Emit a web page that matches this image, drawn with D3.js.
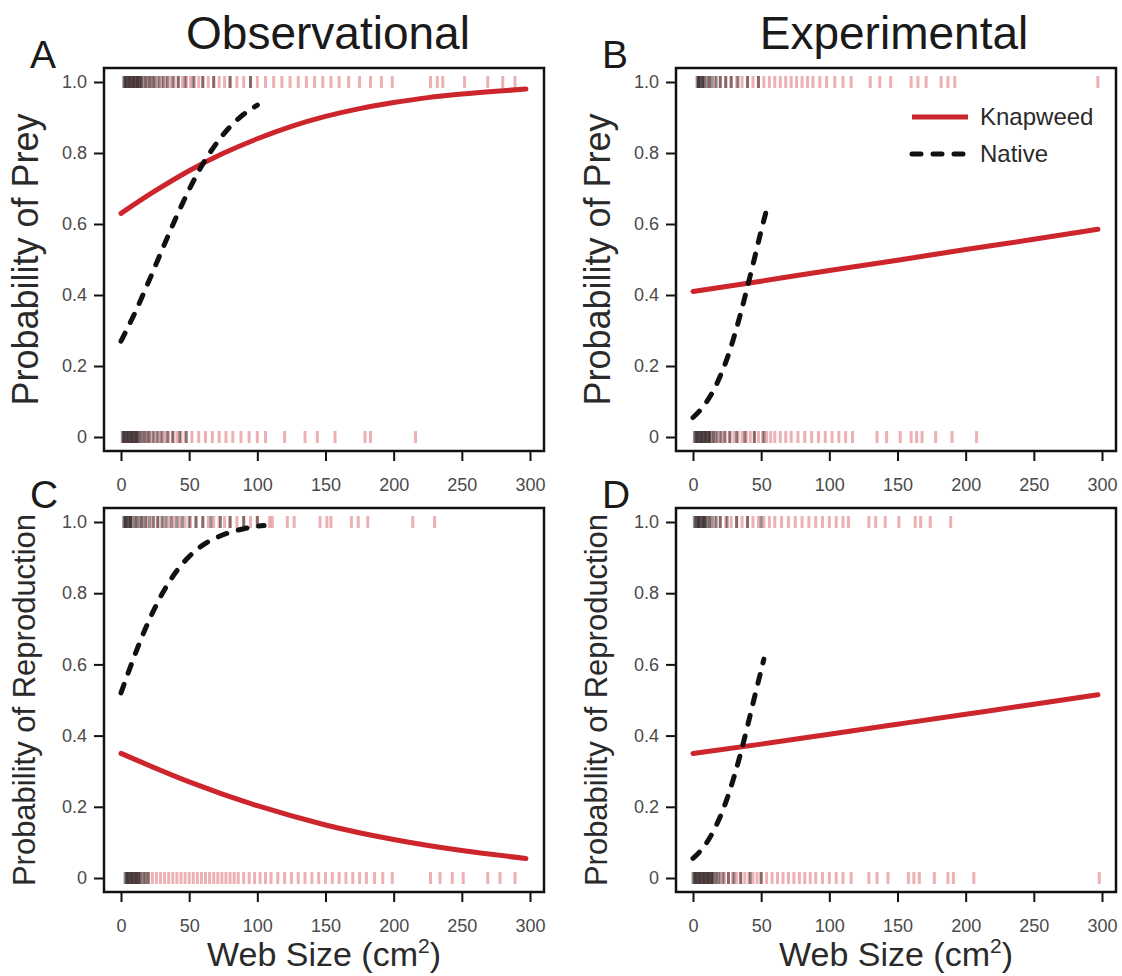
<!DOCTYPE html>
<html>
<head>
<meta charset="utf-8">
<script src="https://cdn.jsdelivr.net/npm/d3@7"></script>
<style>
  body { margin: 0; background: #fff; }
  svg { font-family: "Liberation Sans", Arial, sans-serif; }
</style>
</head>
<body>
<svg id="chart" width="1122" height="976"></svg>
<script>
// fitted curves (web size in cm2, probability)
const preyObsKnapX = [0, 25, 50, 75, 100, 125, 150, 175, 200, 225, 250, 275, 297];
const preyObsKnapP = [0.63, 0.693, 0.75, 0.799, 0.84, 0.875, 0.903, 0.925, 0.942, 0.956, 0.966, 0.974, 0.98];
const preyObsNatX = [0, 10, 20, 30, 40, 50, 60, 70, 80, 90, 100];
const preyObsNatP = [0.27, 0.348, 0.435, 0.526, 0.615, 0.697, 0.769, 0.827, 0.874, 0.909, 0.935];

const preyExpKnapX = [0, 50, 100, 150, 200, 250, 297];
const preyExpKnapP = [0.41, 0.439, 0.469, 0.498, 0.528, 0.557, 0.585];
const preyExpNatX = [0, 5, 10, 15, 20, 25, 30, 35, 40, 45, 50, 55];
const preyExpNatP = [0.055, 0.074, 0.099, 0.131, 0.172, 0.221, 0.281, 0.349, 0.424, 0.502, 0.581, 0.655];

const reproObsKnapX = [0, 50, 100, 150, 200, 250, 297];
const reproObsKnapP = [0.35, 0.27, 0.203, 0.149, 0.108, 0.077, 0.055];
const reproObsNatX = [0, 10, 20, 30, 40, 50, 60, 70, 80, 90, 100, 105];
const reproObsNatP = [0.52, 0.625, 0.719, 0.797, 0.858, 0.903, 0.935, 0.956, 0.971, 0.981, 0.988, 0.99];

const reproExpKnapX = [0, 50, 100, 150, 200, 250, 297];
const reproExpKnapP = [0.35, 0.376, 0.404, 0.432, 0.46, 0.488, 0.515];
const reproExpNatX = [0, 5, 10, 15, 20, 25, 30, 35, 40, 45, 50, 52];
const reproExpNatP = [0.055, 0.074, 0.099, 0.132, 0.173, 0.223, 0.283, 0.351, 0.427, 0.506, 0.584, 0.615];

// raw observations (rug marks): web sizes with outcome 1 and outcome 0
const preyObsKnap1 = [3, 6, 9, 12, 15, 18, 21, 24, 27, 30, 33, 36, 39, 42, 45, 48, 51, 54, 57, 60, 64, 68, 72, 76, 80, 85, 90, 95, 100, 106, 112, 118, 124, 130, 136, 142, 148, 154, 160, 167, 175, 183, 191, 199, 227, 232, 236, 252, 269, 280, 289];
const preyObsNat1 = [2, 3, 4, 5, 6, 7, 8, 9, 10, 11, 12, 13, 14, 15, 17, 19, 21, 23, 25, 28, 31, 34, 38, 42, 47, 53, 60, 68, 80, 95];
const preyObsKnap0 = [2, 5, 8, 11, 14, 17, 20, 23, 26, 29, 32, 35, 38, 41, 44, 47, 52, 57, 62, 67, 72, 77, 82, 88, 94, 100, 106, 120, 135, 144, 157, 179, 183, 216];
const preyObsNat0 = [1, 2, 3, 4, 5, 6, 7, 8, 9, 10, 11, 12, 13, 15, 17, 19, 21, 24, 27, 30, 34, 38, 43, 48];

const preyExpKnap1 = [4, 8, 12, 16, 20, 24, 28, 32, 36, 40, 44, 48, 52, 56, 60, 64, 68, 72, 76, 80, 84, 88, 93, 98, 104, 110, 116, 130, 137, 145, 160, 165, 171, 182, 187, 192, 297];
const preyExpNat1 = [3, 4, 5, 6, 7, 8, 10, 12, 14, 17, 20, 24, 28, 33, 40, 48];
const preyExpKnap0 = [3, 6, 9, 12, 15, 18, 21, 24, 27, 30, 33, 36, 39, 42, 45, 48, 51, 54, 57, 60, 64, 68, 72, 77, 82, 87, 92, 97, 102, 107, 112, 117, 135, 142, 152, 160, 164, 168, 178, 190, 208];
const preyExpNat0 = [1, 2, 3, 4, 5, 6, 7, 8, 9, 10, 11, 12, 13, 15, 17, 20, 23, 27, 32, 38, 45, 52];

const reproObsKnap1 = [3, 7, 11, 15, 19, 23, 27, 31, 35, 39, 43, 47, 51, 55, 60, 64, 68, 72, 76, 80, 85, 90, 95, 100, 109, 111, 122, 127, 146, 151, 154, 169, 174, 181, 214, 230];
const reproObsNat1 = [2, 3, 4, 5, 6, 7, 8, 10, 12, 14, 16, 18, 21, 24, 27, 30, 33, 37, 41, 45, 50, 55, 60, 66, 73, 80, 90, 100];
const reproObsKnap0 = [5, 8, 11, 14, 17, 20, 23, 26, 29, 32, 35, 38, 41, 44, 47, 50, 53, 56, 59, 62, 65, 68, 71, 74, 77, 80, 83, 86, 90, 94, 98, 102, 106, 110, 115, 120, 125, 130, 135, 140, 145, 150, 155, 160, 165, 170, 175, 180, 186, 192, 199, 227, 234, 243, 251, 269, 278, 289];
const reproObsNat0 = [3, 4, 5, 6, 7, 8, 9, 10, 11, 12, 13, 14, 16, 18, 20];

const reproExpKnap1 = [4, 8, 12, 16, 20, 24, 28, 32, 36, 40, 44, 48, 52, 56, 60, 65, 70, 75, 80, 85, 90, 95, 100, 105, 110, 114, 129, 134, 141, 151, 163, 167, 174, 189];
const reproExpNat1 = [1, 2, 3, 4, 5, 6, 7, 8, 9, 10, 12, 14, 17, 20, 25, 32, 40, 50];
const reproExpKnap0 = [2, 5, 8, 11, 14, 17, 20, 23, 26, 29, 32, 35, 38, 41, 44, 47, 50, 54, 58, 62, 66, 70, 74, 78, 82, 86, 90, 95, 100, 105, 110, 116, 129, 135, 143, 158, 162, 166, 177, 187, 191, 206, 298];
const reproExpNat0 = [0, 1, 2, 3, 4, 5, 6, 7, 8, 9, 10, 11, 12, 13, 14, 15, 17, 19, 22, 26, 30, 35, 42, 50];

const xTicks = [0, 50, 100, 150, 200, 250, 300];
const yTicks = [0, 0.2, 0.4, 0.6, 0.8, 1];
const yTickLabels = ['0', '0.2', '0.4', '0.6', '0.8', '1.0'];

const RED = '#cc252c';

const panels = [
  { letter: 'A', left: 104, right: 544, top: 68, bottom: 451, ylab: 'Probability of Prey', ylabSize: 36, ylabX: 38,
    knapX: preyObsKnapX, knapP: preyObsKnapP, natX: preyObsNatX, natP: preyObsNatP,
    knap1: preyObsKnap1, nat1: preyObsNat1, knap0: preyObsKnap0, nat0: preyObsNat0 },
  { letter: 'B', left: 676, right: 1116, top: 68, bottom: 451, ylab: 'Probability of Prey', ylabSize: 36, ylabX: 610,
    knapX: preyExpKnapX, knapP: preyExpKnapP, natX: preyExpNatX, natP: preyExpNatP,
    knap1: preyExpKnap1, nat1: preyExpNat1, knap0: preyExpKnap0, nat0: preyExpNat0, legend: true },
  { letter: 'C', left: 104, right: 544, top: 508, bottom: 892, ylab: 'Probability of Reproduction', ylabSize: 31, ylabX: 35,
    knapX: reproObsKnapX, knapP: reproObsKnapP, natX: reproObsNatX, natP: reproObsNatP,
    knap1: reproObsKnap1, nat1: reproObsNat1, knap0: reproObsKnap0, nat0: reproObsNat0, xlab: true },
  { letter: 'D', left: 676, right: 1116, top: 508, bottom: 892, ylab: 'Probability of Reproduction', ylabSize: 31, ylabX: 607,
    knapX: reproExpKnapX, knapP: reproExpKnapP, natX: reproExpNatX, natP: reproExpNatP,
    knap1: reproExpKnap1, nat1: reproExpNat1, knap0: reproExpKnap0, nat0: reproExpNat0, xlab: true }
];

const svg = d3.select('#chart');

function drawPanel(p) {
  const x = d3.scaleLinear().domain([0, 300]).range([p.left + 17, p.right - 14]);
  const y = d3.scaleLinear().domain([0, 1]).range([p.bottom - 14, p.top + 14]);
  const g = svg.append('g');

  // rug marks at 1 and 0
  const rug = (vals, level, color, op) => {
    g.append('g').selectAll('line')
      .data(vals)
      .join('line')
      .attr('x1', d => x(d)).attr('x2', d => x(d))
      .attr('y1', y(level) - 6).attr('y2', y(level) + 6)
      .attr('stroke', color)
      .attr('stroke-opacity', op)
      .attr('stroke-width', 3);
  };
  rug(p.knap1, 1, RED, 0.36);
  rug(p.knap0, 0, RED, 0.36);
  rug(p.nat1, 1, '#000', 0.42);
  rug(p.nat0, 0, '#000', 0.42);

  const line = d3.line()
    .x(d => x(d[0]))
    .y(d => y(d[1]))
    .curve(d3.curveMonotoneX);

  g.append('path')
    .datum(d3.zip(p.knapX, p.knapP))
    .attr('d', line)
    .attr('fill', 'none')
    .attr('stroke', RED)
    .attr('stroke-width', 5)
    .attr('stroke-linecap', 'round');

  g.append('path')
    .datum(d3.zip(p.natX, p.natP))
    .attr('d', line)
    .attr('fill', 'none')
    .attr('stroke', '#111')
    .attr('stroke-width', 5)
    .attr('stroke-dasharray', '9,12')
    .attr('stroke-linecap', 'round');

  // box
  g.append('rect')
    .attr('x', p.left).attr('y', p.top)
    .attr('width', p.right - p.left).attr('height', p.bottom - p.top)
    .attr('fill', 'none')
    .attr('stroke', '#111')
    .attr('stroke-width', 2.5);

  // axes
  const yAxis = d3.axisLeft(y)
    .tickValues(yTicks)
    .tickFormat((d, i) => yTickLabels[i])
    .tickSize(10)
    .tickPadding(7);
  const xAxis = d3.axisBottom(x)
    .tickValues(xTicks)
    .tickFormat(d3.format('d'))
    .tickSize(10)
    .tickPadding(17);

  g.append('g')
    .attr('transform', `translate(${p.left},0)`)
    .call(yAxis)
    .call(a => a.select('.domain').remove());
  g.append('g')
    .attr('transform', `translate(0,${p.bottom})`)
    .call(xAxis)
    .call(a => a.select('.domain').remove());

  g.selectAll('.tick line').attr('stroke', '#111').attr('stroke-width', 2);
  g.selectAll('.tick text')
    .style('font-family', '"Liberation Sans", Arial, sans-serif')
    .style('font-size', '18px')
    .attr('fill', '#4a4a4a');

  // axis title
  g.append('text')
    .attr('transform', `translate(${p.ylabX},${(p.top + p.bottom) / 2}) rotate(-90)`)
    .attr('text-anchor', 'middle')
    .style('font-size', p.ylabSize + 'px')
    .attr('fill', '#2a2a2a')
    .text(p.ylab);

  // panel letter
  g.append('text')
    .attr('x', p.left - 74)
    .attr('y', p.top)
    .style('font-size', '39px')
    .attr('fill', '#1a1a1a')
    .text(p.letter);

  if (p.xlab) {
    const t = g.append('text')
      .attr('x', (p.left + p.right) / 2)
      .attr('y', 966)
      .attr('text-anchor', 'middle')
      .style('font-size', '34px')
      .attr('fill', '#2a2a2a');
    t.append('tspan').text('Web Size (cm');
    t.append('tspan').attr('dy', -13).style('font-size', '21px').text('2');
    t.append('tspan').attr('dy', 13).text(')');
  }

  if (p.legend) {
    const items = [
      { name: 'Knapweed', color: RED, dash: null, yv: 117 },
      { name: 'Native', color: '#111', dash: '9,12', yv: 154 }
    ];
    const lg = g.append('g').selectAll('g').data(items).join('g')
      .attr('transform', d => `translate(910,${d.yv})`);
    lg.append('line')
      .attr('x1', 2).attr('x2', 58)
      .attr('stroke', d => d.color)
      .attr('stroke-width', 5)
      .attr('stroke-linecap', d => d.dash ? 'round' : 'butt')
      .attr('stroke-dasharray', d => d.dash);
    lg.append('text')
      .attr('x', 70)
      .attr('dy', '0.35em')
      .style('font-size', '24px')
      .attr('fill', '#2a2a2a')
      .text(d => d.name);
  }
}

panels.forEach(drawPanel);

// column titles
svg.append('text')
  .attr('x', 328).attr('y', 49)
  .attr('text-anchor', 'middle')
  .style('font-size', '46px')
  .attr('fill', '#1a1a1a')
  .text('Observational');
svg.append('text')
  .attr('x', 894).attr('y', 49)
  .attr('text-anchor', 'middle')
  .style('font-size', '46px')
  .attr('fill', '#1a1a1a')
  .text('Experimental');
</script>
</body>
</html>
